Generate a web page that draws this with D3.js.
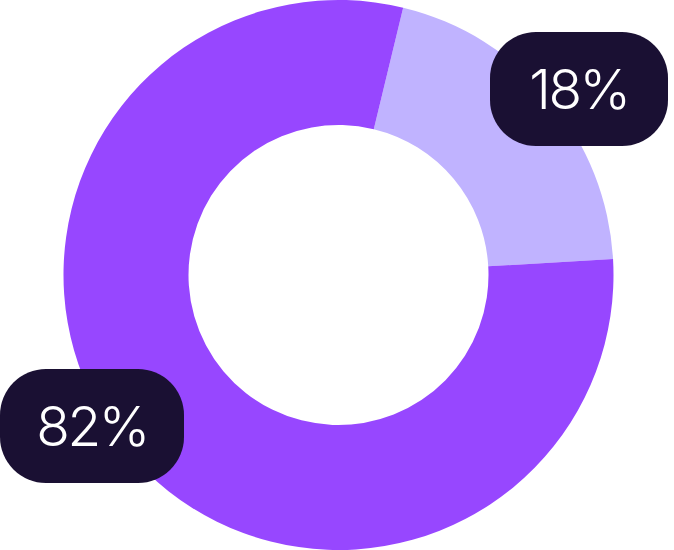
<!DOCTYPE html>
<html>
<head>
<meta charset="utf-8">
<script src="https://cdn.jsdelivr.net/npm/d3@7"></script>
<style>
  html, body { margin: 0; padding: 0; background: #fff; }
  svg { display: block; }
</style>
</head>
<body>
<svg id="chart" width="674" height="550"></svg>
<script>
// Chart data
const categories = ['Minor', 'Major'];
const sliceValues = [20.3, 79.7];      // arc sizes as drawn
const labelTexts = ['18%', '82%'];
const sliceColors = ['#c0b3ff', '#9747ff'];

// Layout
const W = 674, H = 550;
const cx = 338.5, cy = 275;
const outerR = 275, innerR = 150;
const startAngle = 13.6 * Math.PI / 180;

// label boxes: center x, center y
const labelPos = [[579, 89], [92, 426]];
const boxW = [178, 184], boxH = 114;

const svg = d3.select('#chart');

const pie = d3.pie()
    .sort(null)
    .value(d => d)
    .startAngle(startAngle)
    .endAngle(startAngle + 2 * Math.PI);

const arc = d3.arc()
    .innerRadius(innerR)
    .outerRadius(outerR);

const g = svg.append('g')
    .attr('transform', `translate(${cx},${cy})`);

g.selectAll('path')
    .data(pie(sliceValues))
    .enter()
    .append('path')
    .attr('d', arc)
    .attr('fill', (d, i) => sliceColors[i]);

// Labels
const labels = svg.selectAll('.label')
    .data(labelTexts)
    .enter()
    .append('g')
    .attr('class', 'label')
    .attr('transform', (d, i) => `translate(${labelPos[i][0]},${labelPos[i][1]})`);

labels.append('rect')
    .attr('x', (d, i) => -boxW[i] / 2)
    .attr('y', -boxH / 2)
    .attr('width', (d, i) => boxW[i])
    .attr('height', boxH)
    .attr('rx', 46)
    .attr('fill', '#1a1033');

labels.append('text')
    .attr('text-anchor', 'middle')
    .attr('dy', '0.36em')
    .attr('fill', '#ffffff')
    .style('font-family', 'Inter, "Noto Sans", sans-serif')
    .style('font-weight', 350)
    .style('font-size', '55px')
    .style('letter-spacing', '-2.5px')
    .text(d => d);
</script>
</body>
</html>
